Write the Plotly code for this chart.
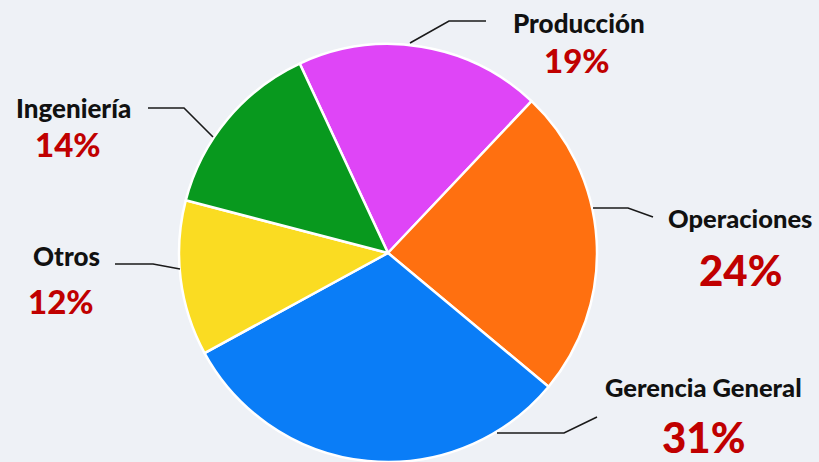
import plotly.graph_objects as go

labels = ["Producción", "Operaciones", "Gerencia General", "Otros", "Ingeniería"]
values = [19, 24, 31, 12, 14]
colors = ["#DF45F7", "#FF7010", "#0A7DF7", "#FADC22", "#08991E"]
pct_text = ["19%", "24%", "31%", "12%", "14%"]

W, H = 819, 462

def px(x):
    return x / W

def py(y):
    return 1 - y / H

fig = go.Figure(go.Pie(
    labels=labels, values=values, sort=False, direction="clockwise",
    rotation=-25, textinfo="none", hoverinfo="label+percent",
    marker=dict(colors=colors, line=dict(color="white", width=2.5)),
    domain=dict(x=[px(177), px(599)], y=[0, py(44)]),
    showlegend=False,
))

# label layout: (name x, name y, pct x, pct y, name size, pct size)
label_pos = [
    (579, 23, 577, 60, 26, 33),
    (740, 218, 740, 270, 25.5, 42),
    (703, 387, 703, 437, 25.5, 42),
    (66, 256, 61, 301, 26, 33),
    (73, 108, 68, 144, 26, 33),
]
leaders = [
    [(410, 43), (449, 21), (486, 21)],
    [(593, 208), (628, 208), (653, 217)],
    [(497, 433), (564, 433), (597, 417)],
    [(115, 264), (153, 264), (180, 269)],
    [(148, 108), (184, 108), (213, 137)],
]

annotations = []
shapes = []
for i, lab in enumerate(labels):
    nx, ny, tx, ty, ns, ts = label_pos[i]
    annotations.append(dict(x=px(nx), y=py(ny), xref="paper", yref="paper",
                            text=lab, showarrow=False,
                            xanchor="center", yanchor="middle",
                            font=dict(family="Lato", size=ns, color="#111111", weight=900)))
    annotations.append(dict(x=px(tx), y=py(ty), xref="paper", yref="paper",
                            text=pct_text[i], showarrow=False,
                            xanchor="center", yanchor="middle",
                            font=dict(family="Lato", size=ts, color="#C00000", weight=900)))
    pts = leaders[i]
    path = "M %f %f " % (px(pts[0][0]), py(pts[0][1])) + " ".join(
        "L %f %f" % (px(a), py(b)) for a, b in pts[1:])
    shapes.append(dict(type="path", xref="paper", yref="paper", path=path,
                       line=dict(color="#1a1a1a", width=1.6)))

fig.update_layout(
    width=W, height=H, margin=dict(l=0, r=0, t=0, b=0),
    paper_bgcolor="#EEF1F6", plot_bgcolor="#EEF1F6",
    annotations=annotations, shapes=shapes,
)

fig.write_html("out.html", config={"displayModeBar": False},
               post_script="document.body.style.margin='0';document.body.style.background='#EEF1F6';document.body.style.overflow='hidden';")
